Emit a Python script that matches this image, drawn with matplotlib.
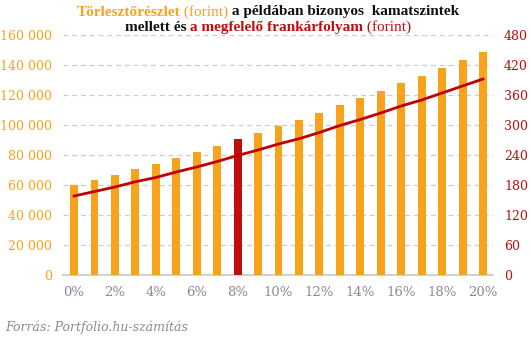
import matplotlib
matplotlib.use("Agg")
import matplotlib.pyplot as plt
import numpy as np

# kamatszintek (%)
rates = list(range(0, 21))
rate_labels = [f"{r}%" for r in rates]
# törlesztőrészlet (forint)
payments = [60000, 63300, 66700, 70700, 74000, 78000, 82000, 86000, 90700, 94700,
            99300, 103300, 108000, 113300, 118000, 122700, 128000, 132700, 138000,
            143300, 148700]
# megfelelő frankárfolyam (forint)
chf_rate = [158, 167, 176, 186.5, 195, 206, 216, 227, 239, 250, 262, 272.5, 285,
            299, 311, 324, 338, 350, 364, 378, 392]
highlight = 8

ORANGE = "#F8A31B"
RED = "#C00D0D"
GREY = "#8A8A9A"
SERIF = "DejaVu Serif"
TITLE_FONT = "Liberation Serif"

W, H = 531, 342
fig = plt.figure(figsize=(W / 100, H / 100), dpi=100)
ax = fig.add_axes([63 / W, (H - 275) / H, (493 - 63) / W, (275 - 35) / H])

colors = [RED if r == highlight else ORANGE for r in rates]
ax.bar(rates, payments, width=0.39, color=colors, zorder=3)
ax.set_xlim(-0.54, 20.49)
ax.set_ylim(0, 160000)
ax.set_yticks(np.arange(0, 160001, 20000))
ax.set_yticklabels([f"{v:,}".replace(",", " ") for v in range(0, 160001, 20000)],
                   color=ORANGE, fontsize=9, family=SERIF)
ax.set_xticks(rates[::2])
ax.set_xticklabels(rate_labels[::2], color=GREY, fontsize=9.5, family=SERIF)
ax.tick_params(axis="both", length=0, pad=8)
ax.grid(axis="y", color="#CCCCCC", linestyle=(0, (4, 3)), linewidth=0.9, zorder=0)
for s in ["top", "right", "left"]:
    ax.spines[s].set_visible(False)
ax.spines["bottom"].set_color("#C8C8C8")
ax.spines["bottom"].set_linewidth(1.2)

ax2 = ax.twinx()
ax2.plot(rates, chf_rate, color="#C00000", linewidth=2, zorder=4)
ax2.set_ylim(0, 480)
ax2.set_yticks(range(0, 481, 60))
ax2.set_yticklabels([str(v) for v in range(0, 481, 60)], color=RED, fontsize=9, family=SERIF)
ax2.tick_params(axis="y", length=0, pad=8)
for s in ax2.spines.values():
    s.set_visible(False)

# kétsoros, többszínű cím
renderer = fig.canvas.get_renderer()
title_lines = [
    (12, [("Törlesztőrészlet", ORANGE, "bold"), (" (forint)", ORANGE, "normal"),
          (" a példában bizonyos  kamatszintek", "#111111", "bold")]),
    (27.5, [("mellett és", "#111111", "bold"), (" a megfelelő frankárfolyam", RED, "bold"),
            (" (forint)", RED, "normal")]),
]
for ypix, parts in title_lines:
    texts = [fig.text(0, 1 - ypix / H, s, color=c, fontweight=fw, fontsize=11,
                      family=TITLE_FONT, va="center") for s, c, fw in parts]
    widths = [t.get_window_extent(renderer).width for t in texts]
    x = 268 - sum(widths) / 2
    for t, w in zip(texts, widths):
        t.set_x(x / W)
        x += w

fig.text(5 / W, 1 - 327 / H, "Forrás: Portfolio.hu-számítás", color=GREY,
         fontsize=9, family=SERIF, style="italic", va="center")

fig.savefig("out.png", dpi=100)
